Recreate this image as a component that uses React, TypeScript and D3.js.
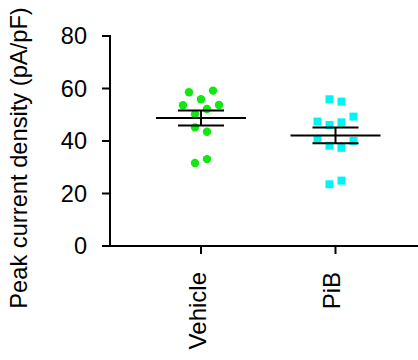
import React from "react";
import * as d3 from "d3";

const categories = ["Vehicle", "PiB"];
const vehicleValues = [58.6, 55.9, 59.2, 53.6, 50.2, 52.2, 53.7, 45.2, 43.5, 31.6, 33.1];
const pibValues = [55.9, 55.0, 47.4, 46.1, 47.1, 49.3, 40.8, 38.2, 37.4, 40.0, 23.5, 24.9];
const yTicks = [0, 20, 40, 60, 80];
const yLabel = "Peak current density (pA/pF)";

const W = 418, H = 360;
const FONT = "'Liberation Sans', Arial, Helvetica, sans-serif";

function swarm(values: number[], threshold: number, spacing: number) {
  const idx = values.map((_, i) => i).sort((a, b) => values[b] - values[a]);
  const rows: number[][] = [];
  let cur: number[] = [];
  let start = Infinity;
  idx.forEach((i) => {
    if (cur.length === 0 || start - values[i] > threshold) {
      if (cur.length) rows.push(cur);
      cur = [i];
      start = values[i];
    } else cur.push(i);
  });
  if (cur.length) rows.push(cur);
  const off = new Array(values.length).fill(0);
  rows.forEach((r) => {
    const sorted = [...r].sort((a, b) => a - b);
    sorted.forEach((i, k) => {
      off[i] = (k - (sorted.length - 1) / 2) * spacing;
    });
  });
  return off;
}

export default function App() {
  const y = d3.scaleLinear().domain([0, 80]).range([246, 36]);
  const x = d3.scalePoint<string>().domain(categories).range([201, 335.5]);
  const series = [
    { cat: categories[0], vals: vehicleValues, color: "#11e811", shape: "circle" },
    { cat: categories[1], vals: pibValues, color: "#00f4f4", shape: "square" },
  ];
  const axisX = 110;
  const axisY = y(0);

  return (
    <svg width={W} height={H} style={{ position: "absolute", left: 0, top: 0 }} fontFamily={FONT}>
      <rect width={W} height={H} fill="#fff" />
      <line x1={axisX} x2={axisX} y1={y(80) - 1} y2={axisY} stroke="#000" strokeWidth={2} />
      {yTicks.map((t) => (
        <g key={t}>
          <line x1={axisX - 8} x2={axisX} y1={y(t)} y2={y(t)} stroke="#000" strokeWidth={2} />
          <text x={87} y={y(t)} dy="0.36em" textAnchor="end" fontSize={23.5} fill="#000">
            {t}
          </text>
        </g>
      ))}
      <line x1={axisX - 7} x2={W} y1={axisY} y2={axisY} stroke="#000" strokeWidth={2} />
      {categories.map((c) => (
        <g key={c}>
          <line x1={x(c)!} x2={x(c)!} y1={axisY} y2={axisY + 8} stroke="#000" strokeWidth={2} />
          <text
            transform={`translate(${x(c)! - 4},272) rotate(-90)`}
            dy="0.36em"
            textAnchor="end"
            fontSize={24}
            fill="#000"
          >
            {c}
          </text>
        </g>
      ))}
      <text
        transform={`translate(18,158) rotate(-90)`}
        dy="0.36em"
        textAnchor="middle"
        fontSize={23.7}
        fill="#000"
      >
        {yLabel}
      </text>
      {series.map((s) => {
        const cx = x(s.cat)!;
        const off = swarm(s.vals, 3.8, 12);
        const mean = d3.mean(s.vals)!;
        const sem = d3.deviation(s.vals)! / Math.sqrt(s.vals.length);
        return (
          <g key={s.cat}>
            {s.vals.map((v, i) =>
              s.shape === "circle" ? (
                <circle key={i} cx={cx + off[i]} cy={y(v)} r={4.2} fill={s.color} />
              ) : (
                <rect key={i} x={cx + off[i] - 4} y={y(v) - 4} width={8} height={8} fill={s.color} />
              )
            )}
            <line x1={cx - 45} x2={cx + 45} y1={y(mean)} y2={y(mean)} stroke="#000" strokeWidth={2} />
            <line x1={cx - 23} x2={cx + 23} y1={y(mean + sem)} y2={y(mean + sem)} stroke="#000" strokeWidth={2} />
            <line x1={cx - 23} x2={cx + 23} y1={y(mean - sem)} y2={y(mean - sem)} stroke="#000" strokeWidth={2} />
            <line x1={cx} x2={cx} y1={y(mean + sem)} y2={y(mean - sem)} stroke="#000" strokeWidth={2} />
          </g>
        );
      })}
    </svg>
  );
}
